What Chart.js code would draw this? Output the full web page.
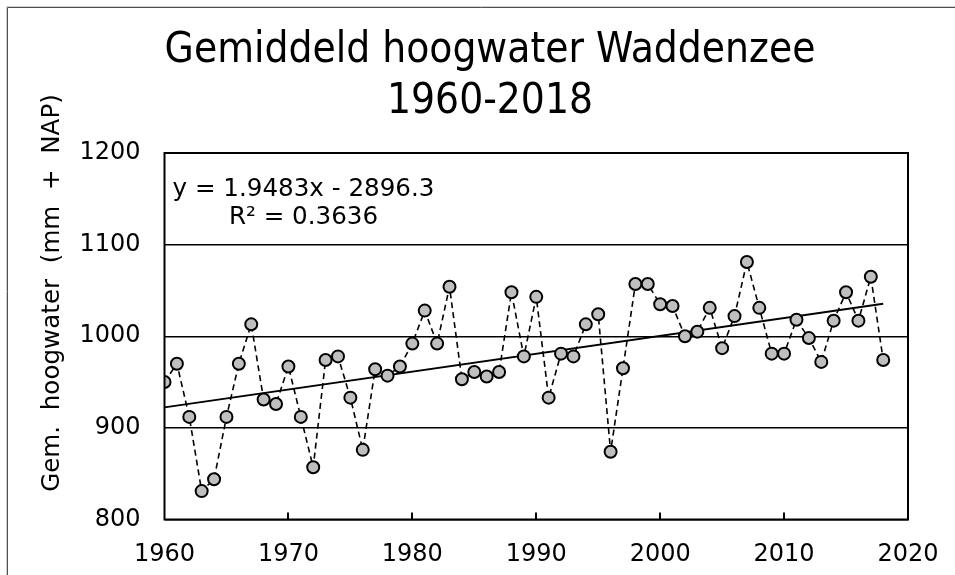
<!DOCTYPE html>
<html>
<head>
<meta charset="utf-8">
<script src="https://cdn.jsdelivr.net/npm/chart.js@4/dist/chart.umd.min.js"></script>
<style>
    html, body { margin: 0; padding: 0; background: #ffffff; }
    #wrap { width: 955px; height: 575px; position: relative; }
</style>
</head>
<body>
<div id="wrap"><canvas id="hoogwaterChart" width="955" height="575"></canvas></div>
<script>
let years = [
    1960, 1961, 1962, 1963, 1964, 1965, 1966, 1967, 1968, 1969,
    1970, 1971, 1972, 1973, 1974, 1975, 1976, 1977, 1978, 1979,
    1980, 1981, 1982, 1983, 1984, 1985, 1986, 1987, 1988, 1989,
    1990, 1991, 1992, 1993, 1994, 1995, 1996, 1997, 1998, 1999,
    2000, 2001, 2002, 2003, 2004, 2005, 2006, 2007, 2008, 2009,
    2010, 2011, 2012, 2013, 2014, 2015, 2016, 2017, 2018
];

// gemiddeld hoogwater (mm + NAP)
let hoogwater = [
    950, 970, 912, 831, 844, 912, 970, 1013, 931, 926,
    967, 912, 857, 974, 978, 933, 876, 964, 957, 967,
    992, 1028, 992, 1054, 953, 961, 956, 961, 1048, 978,
    1043, 933, 981, 978, 1013, 1024, 874, 965, 1057, 1057,
    1035, 1033, 1000, 1005, 1031, 987, 1022, 1081, 1031, 981,
    981, 1018, 998, 972, 1017, 1048, 1017, 1065, 974
];

// trendline y = a*x + b as printed on the chart
let trendCoef = [1.9483, -2896.3];
let trendYears = [1960, 2018];

let xTicks = [1960, 1970, 1980, 1990, 2000, 2010, 2020];
let yTicks = [800, 900, 1000, 1100, 1200];

let titleLines = ["Gemiddeld hoogwater Waddenzee", "1960-2018"];
let yTitle = "Gem.  hoogwater  (mm  +  NAP)";
let trendLabels = ["y = 1.9483x - 2896.3", "R\u00B2 = 0.3636"];

const FONT = "'DejaVu Sans', Verdana, sans-serif";

// frame, inner x ticks, y-axis title and trend equation
const extras = {
    id: "extras",
    beforeDraw(chart) {
        const ctx = chart.ctx;
        ctx.save();
        ctx.strokeStyle = "#d0d0d0";
        ctx.lineWidth = 1;
        ctx.beginPath();
        ctx.moveTo(6.5, 1000); ctx.lineTo(6.5, 6.5); ctx.lineTo(1000, 6.5);
        ctx.stroke();
        ctx.strokeStyle = "#505050";
        ctx.beginPath();
        ctx.moveTo(7.5, 1000); ctx.lineTo(7.5, 7.5); ctx.lineTo(1000, 7.5);
        ctx.stroke();
        ctx.restore();
    },
    afterDatasetsDraw(chart) {
        const ctx = chart.ctx;
        const a = chart.chartArea;
        const xs = chart.scales.x;
        ctx.save();
        ctx.strokeStyle = "#000";
        ctx.lineWidth = 2;
        ctx.strokeRect(a.left, a.top, a.right - a.left, a.bottom - a.top);
        xTicks.slice(1, -1).forEach(t => {
            const px = Math.round(xs.getPixelForValue(t));
            ctx.beginPath();
            ctx.moveTo(px, a.bottom);
            ctx.lineTo(px, a.bottom - 7);
            ctx.stroke();
        });

        ctx.fillStyle = "#000";
        ctx.font = "24.6px " + FONT;
        ctx.textAlign = "center";
        ctx.textBaseline = "alphabetic";
        ctx.fillText(trendLabels[0], 303.5, 196);
        ctx.fillText(trendLabels[1], 303.5, 224);

        ctx.font = "24.6px " + FONT;
        ctx.translate(53, 293);
        ctx.rotate(-Math.PI / 2);
        ctx.textBaseline = "middle";
        ctx.fillText(yTitle, 0, 0);
        ctx.restore();
    }
};

const trendData = trendYears.map(x => ({ x: x, y: trendCoef[0] * x + trendCoef[1] }));
const pointData = years.map((x, i) => ({ x: x, y: hoogwater[i] }));

new Chart(document.getElementById("hoogwaterChart"), {
    type: "scatter",
    data: {
        datasets: [
            {
                label: "Gemiddeld hoogwater",
                data: pointData,
                showLine: true,
                borderColor: "#000",
                borderWidth: 1.6,
                borderDash: [6, 4],
                pointBackgroundColor: "#BFBFBF",
                pointBorderColor: "#000",
                pointBorderWidth: 2,
                pointRadius: 6,
                order: 1
            },
            {
                label: "Trend",
                data: trendData,
                showLine: true,
                borderColor: "#000",
                borderWidth: 2,
                pointRadius: 0,
                order: 2
            }
        ]
    },
    plugins: [extras],
    options: {
        responsive: false,
        animation: false,
        devicePixelRatio: 1,
        layout: { padding: { left: 25, right: 0, top: 0, bottom: 0 } },
        plugins: {
            legend: { display: false },
            tooltip: { enabled: false },
            title: {
                display: true,
                text: titleLines,
                color: "#000",
                font: { family: "'DejaVu Sans Condensed', 'DejaVu Sans', sans-serif", size: 42, weight: "normal", lineHeight: 1.2 },
                padding: { top: 26, bottom: 26.2 }
            }
        },
        scales: {
            x: {
                type: "linear",
                min: xTicks[0],
                max: xTicks[xTicks.length - 1],
                afterBuildTicks(s) { s.ticks = xTicks.map(v => ({ value: v })); },
                afterFit(s) { s.height = 55.5; },
                grid: { display: false },
                border: { display: false },
                ticks: {
                    color: "#000", padding: 13, maxRotation: 0,
                    font: { family: FONT, size: 24 },
                    callback: v => String(v)
                }
            },
            y: {
                min: yTicks[0],
                max: yTicks[yTicks.length - 1],
                afterBuildTicks(s) { s.ticks = yTicks.map(v => ({ value: v })); },
                afterFit(s) { s.width = 139.5; },
                grid: { color: "#000", lineWidth: 1.5, drawTicks: false },
                border: { display: false },
                ticks: {
                    color: "#000", padding: 24,
                    font: { family: FONT, size: 24 },
                    callback: v => String(v)
                }
            },
            yRight: {
                position: "right",
                afterFit(s) { s.width = 47; },
                grid: { display: false, drawTicks: false },
                border: { display: false },
                ticks: { display: false }
            }
        }
    }
});
</script>
</body>
</html>
